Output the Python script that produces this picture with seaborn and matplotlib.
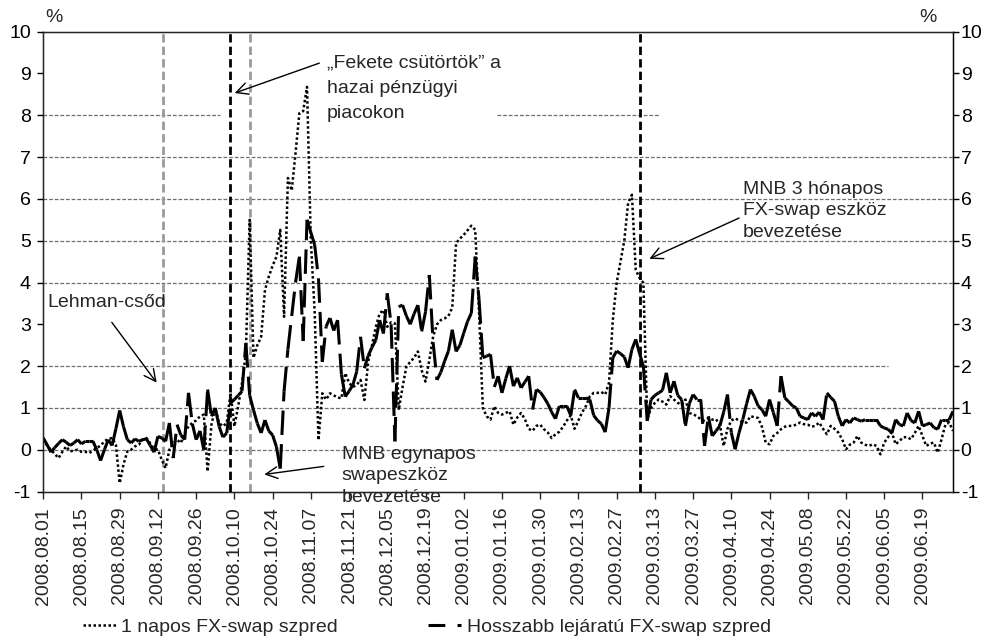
import numpy as np
import pandas as pd
import seaborn as sns
from matplotlib import pyplot as plt
from matplotlib.lines import Line2D

# business days, category axis like the original Excel chart
dates = pd.bdate_range('2008-08-01', '2009-07-01')

# 1 napos FX-swap szpred (%)
overnight = [
    0.25, 0.10, 0.00, -0.10, -0.20, -0.05, 0.08, -0.04, -0.02, 0.00,
    -0.05, -0.05, -0.08, -0.02, 0.04, 0.10, 0.20, 0.26, 0.28, 0.12,
    -0.80, -0.35, -0.04, 0.00, 0.08, 0.12, 0.24, 0.28, 0.15, 0.02,
    0.00, -0.24, -0.44, 0.00, 0.15, 0.24, 0.16, 0.40, 0.56, 0.64,
    0.70, 0.80, 0.84, -0.52, 0.60, 1.00, 0.64, 0.56, 0.64, 1.36,
    0.56, 1.04, 1.60, 2.30, 5.50, 2.20, 2.50, 2.70, 3.82, 4.14,
    4.40, 4.62, 5.26, 3.18, 6.50, 6.20, 7.10, 8.05, 8.10, 8.68,
    5.00, 3.30, 0.23, 1.35, 1.20, 1.35, 1.30, 1.25, 1.23, 1.83,
    1.60, 1.50, 1.55, 1.67, 1.19, 2.10, 2.50, 2.94, 3.26, 3.34,
    2.94, 3.05, 3.02, 0.95, 1.50, 1.99, 2.10, 2.20, 2.35, 1.90,
    1.63, 2.15, 2.71, 3.00, 3.10, 3.14, 3.20, 3.40, 4.94, 5.05,
    5.14, 5.25, 5.36, 5.26, 3.30, 1.00, 0.80, 0.72, 1.04, 0.88,
    0.84, 0.88, 0.92, 0.60, 0.77, 0.88, 0.73, 0.50, 0.45, 0.57,
    0.60, 0.49, 0.41, 0.28, 0.37, 0.43, 0.55, 0.70, 0.82, 0.50,
    0.70, 0.90, 1.05, 1.28, 1.36, 1.36, 1.38, 1.32, 1.60, 3.10,
    3.99, 4.50, 5.00, 5.90, 6.10, 4.30, 4.11, 3.99, 0.73, 1.00,
    1.12, 1.20, 1.15, 1.08, 1.28, 1.20, 1.12, 1.08, 1.20, 0.88,
    0.85, 0.80, 0.73, 0.70, 0.76, 0.72, 0.73, 0.60, 0.09, 0.50,
    0.70, 0.75, 0.70, 0.65, 0.65, 0.80, 0.78, 0.76, 0.55, 0.17,
    0.13, 0.33, 0.40, 0.49, 0.55, 0.57, 0.57, 0.60, 0.65, 0.61,
    0.60, 0.55, 0.57, 0.65, 0.50, 0.37, 0.57, 0.50, 0.41, 0.25,
    0.01, 0.12, 0.17, 0.33, 0.17, 0.12, 0.09, 0.13, 0.09, -0.11,
    0.17, 0.30, 0.41, 0.13, 0.21, 0.30, 0.30, 0.25, 0.40, 0.57,
    0.33, 0.09, 0.15, 0.17, -0.07, 0.25, 0.60, 0.65, 0.45,
]

# Hosszabb lejaratu FX-swap szpred (%)
longer = [
    0.28, 0.12, -0.06, 0.05, 0.15, 0.24, 0.18, 0.10, 0.16, 0.24,
    0.14, 0.20, 0.20, 0.20, 0.00, -0.26, 0.00, 0.24, 0.10, 0.50,
    0.94, 0.55, 0.24, 0.16, 0.26, 0.20, 0.24, 0.26, 0.10, -0.06,
    0.32, 0.28, 0.20, 0.64, -0.20, 0.60, 0.35, 0.24, 1.36, 0.62,
    0.24, 0.45, 0.00, 1.44, 0.80, 1.00, 0.56, 0.30, 0.40, 1.12,
    1.20, 1.30, 1.40, 2.55, 1.30, 0.95, 0.63, 0.40, 0.71, 0.45,
    0.35, 0.07, -0.45, 1.40, 2.40, 3.20, 4.00, 4.62, 2.60, 5.50,
    5.20, 4.90, 4.10, 2.10, 2.95, 3.15, 2.85, 3.10, 1.80, 1.27,
    1.40, 1.55, 1.87, 2.70, 1.95, 2.25, 2.45, 2.62, 3.10, 2.78,
    3.74, 3.00, 0.20, 3.42, 3.46, 3.20, 3.00, 3.25, 3.46, 2.83,
    3.30, 4.18, 2.55, 1.67, 1.85, 2.12, 2.36, 2.87, 2.35, 2.50,
    2.79, 3.07, 3.27, 4.62, 3.60, 2.20, 2.24, 2.28, 1.50, 1.76,
    1.36, 1.70, 2.00, 1.52, 1.72, 1.48, 1.62, 1.76, 0.96, 1.44,
    1.38, 1.25, 1.10, 0.90, 0.74, 1.04, 1.04, 1.04, 0.82, 1.44,
    1.24, 1.24, 1.24, 1.20, 0.82, 0.70, 0.62, 0.42, 1.00, 2.20,
    2.36, 2.30, 2.22, 1.96, 2.40, 2.64, 2.30, 2.00, 0.69, 1.20,
    1.30, 1.36, 1.42, 1.84, 1.36, 1.64, 1.30, 1.20, 0.57, 1.10,
    1.32, 1.20, 1.20, 0.09, 0.80, 0.33, 0.45, 0.57, 0.90, 1.32,
    0.41, 0.01, 0.40, 0.72, 1.10, 1.44, 1.28, 1.05, 0.96, 0.80,
    1.20, 0.89, 0.57, 1.76, 1.24, 1.15, 1.05, 1.00, 0.80, 0.76,
    0.72, 0.88, 0.80, 0.90, 0.72, 1.36, 1.25, 1.16, 0.80, 0.57,
    0.72, 0.64, 0.76, 0.72, 0.68, 0.72, 0.72, 0.72, 0.72, 0.57,
    0.52, 0.49, 0.40, 0.72, 0.60, 0.57, 0.88, 0.70, 0.64, 0.92,
    0.57, 0.60, 0.64, 0.53, 0.49, 0.72, 0.72, 0.72, 0.92,
]

legend_labels = ["1 napos FX-swap szpred", "Hosszabb lejáratú FX-swap szpred"]

# event lines (positions on the business-day axis)
event_pos = [31.2, 48.85, 54.1, 156.1]
event_col = ['#9a9a9a', 'black', '#9a9a9a', 'black']

sns.set_style('ticks')
plt.rcParams['font.family'] = ['Liberation Sans', 'DejaVu Sans']
plt.rcParams['font.size'] = 14
plt.rcParams['axes.unicode_minus'] = False

day = np.arange(len(dates))
df = pd.DataFrame({'day': day, 'overnight': overnight, 'longer': longer})

# one unit per step, so the long dash starts again on every segment (Excel style)
seg = pd.DataFrame({
    'day': np.repeat(day, 2)[1:-1],
    'value': np.repeat(np.asarray(longer), 2)[1:-1],
    'unit': np.repeat(day[:-1], 2),
})

fig, ax = plt.subplots(figsize=(9.83, 6.39), dpi=100)
fig.subplots_adjust(left=0.044, right=0.9695, top=0.9504, bottom=0.2308)

# gridlines, some pieces are hidden behind the text boxes in the original
grid = {0: [(0, 238)], 1: [(0, 238)], 2: [(0, 221)], 4: [(0, 238)],
        5: [(0, 238)], 6: [(0, 238)], 7: [(0, 238)],
        8: [(0, 46.2), (118.7, 161.3)]}
for yv, spans in grid.items():
    for x0, x1 in spans:
        ax.hlines(yv, x0, x1, colors='#6e6e6e', lw=0.9,
                  linestyles=(0, (3, 1.5)), zorder=1)

for xp, c in zip(event_pos, event_col):
    ax.axvline(xp, color=c, lw=2, linestyle=(0, (3, 1.5)), zorder=2)

sns.lineplot(data=df, x='day', y='overnight', color='black', lw=1.8,
             linestyle=(0, (1, 1)), ax=ax, legend=False, zorder=3)
sns.lineplot(data=seg, x='day', y='value', units='unit', estimator=None,
             color='black', lw=2.2, linestyle=(0, (8, 3)), ax=ax,
             legend=False, zorder=4)

ax.set_xlim(0, 238)
ax.set_ylim(-1, 10)
ax.set_yticks(range(-1, 11))
ax.set_xticks(day[::10])
ax.set_xticklabels(dates[::10].strftime('%Y.%m.%d'), rotation=90)
ax.set_xlabel('')
ax.set_ylabel('')
ax.tick_params(axis='y', direction='out', length=4, width=1, pad=5, colors='black')
ax.tick_params(axis='x', direction='out', length=5, width=1, pad=6)
for s in ax.spines.values():
    s.set_color('black')
    s.set_linewidth(1)

# right hand scale, same values, labels closer to the axis
ax2 = ax.twinx()
ax2.set_ylim(-1, 10)
ax2.set_yticks(range(-1, 11))
ax2.tick_params(axis='y', direction='out', length=4, width=1, pad=1.5, colors='black')
ax2.spines['right'].set_color('black')

fig.text(54 / 983, 1 - 18 / 639, '%', ha='center', va='center', fontsize=14)
fig.text(928 / 983, 1 - 18 / 639, '%', ha='center', va='center', fontsize=14)

arrow = dict(arrowstyle='->,head_length=0.6,head_width=0.3', color='black', lw=1)

ax.text(74.2, 9.46, '„Fekete csütörtök” a\nhazai pénzügyi\npiacokon',
        ha='left', va='top', linespacing=1.65)
ax.annotate('', xy=(49.4, 8.51), xytext=(72.9, 9.27), arrowprops=arrow)

ax.text(183.1, 6.44, 'MNB 3 hónapos\nFX-swap eszköz\nbevezetése',
        ha='left', va='top', linespacing=1.38)
ax.annotate('', xy=(157.9, 4.54), xytext=(182.7, 5.57), arrowprops=arrow)

ax.text(1.0, 3.53, 'Lehman-csőd', ha='left', va='center')
ax.annotate('', xy=(30.1, 1.55), xytext=(17.5, 3.1), arrowprops=arrow)

ax.text(78.1, 0.09, 'MNB egynapos\nswapeszköz\nbevezetése',
        ha='left', va='top', linespacing=1.33)
ax.annotate('', xy=(57.1, -0.6), xytext=(74.1, -0.39), arrowprops=arrow)

h1 = Line2D([], [], color='black', lw=1.8, linestyle=(0, (1, 1)))
h2 = Line2D([], [], color='black', lw=2.2, linestyle=(0, (5.5, 4, 8, 3)))
fig.legend([h1, h2], legend_labels, loc='center', bbox_to_anchor=(0.434, 0.019),
           ncol=2, frameon=False, handlelength=1.7, handletextpad=0.3,
           columnspacing=4.6, fontsize=14)

plt.savefig('out.png', dpi=100)
plt.close()
